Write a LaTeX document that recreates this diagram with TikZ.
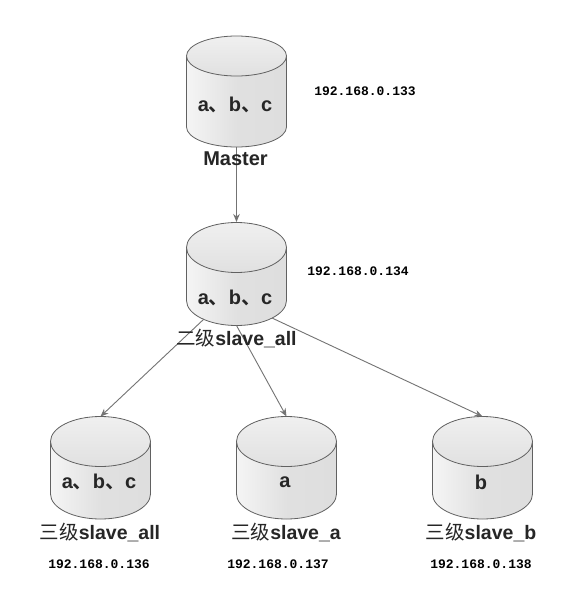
\documentclass[tikz,border=0pt]{standalone}
\usepackage{fontspec}
\setmainfont{Liberation Sans}
\newfontfamily\cjk{Noto Sans CJK SC}[BoldFont={* Bold}]
\newfontfamily\ipfont{Liberation Mono}
\usetikzlibrary{arrows.meta}
\tikzset{
  conn/.style={draw=black!55,line width=0.9pt,-{Stealth[length=8pt,width=6.5pt]}},
  lbl/.style={font=\fontsize{20}{22}\selectfont\bfseries,text=black!85,inner sep=0pt},
  lblb/.style={font=\fontsize{19.5}{22}\selectfont\bfseries,text=black!85,inner sep=0pt},
  ip/.style={font=\fontsize{13}{15}\selectfont\ipfont\bfseries,text=black,inner sep=0pt},
  cylbody/.style={draw=black!62,line width=0.8pt,left color=black!4,right color=black!13,middle color=black!12},
  cyltop/.style={draw=black!62,line width=0.8pt,top color=black!6,bottom color=black!12},
  cylbox/.style={minimum width=100pt,inner sep=0pt}
}
% name, cx, top, ry, bottom
\newcommand{\cyl}[5]{%
  \pgfmathsetmacro{\ct}{#3+#4}%
  \pgfmathsetmacro{\cb}{#5-#4}%
  \pgfmathsetmacro{\cm}{(#3+#5)/2}%
  \path[cylbody] (#2-50,\ct) -- (#2-50,\cb) arc[start angle=180,end angle=360,x radius=50,y radius=-#4] -- (#2+50,\ct) -- cycle;
  \path[cyltop] (#2,\ct) ellipse[x radius=50,y radius=#4];
  \node[cylbox,minimum height=#5pt-#3pt] (#1) at (#2,\cm) {};
  \coordinate (#1top) at (#2,#3);
  \coordinate (#1bot) at (#2,#5);
}
\newcommand{\abc}{a{\cjk 、}b{\cjk 、}c}
\begin{document}
\begin{tikzpicture}[x=1pt,y=-1pt]
\useasboundingbox (0,0) rectangle (570,595);
\fill[white] (0,0) rectangle (570,595);
\coordinate (m2a) at (204,319);
\coordinate (m2c) at (272,318);
\draw[conn] (236.5,147) coordinate (mb) -- (236.5,222) coordinate (st);
\cyl{master}{236.5}{36}{20}{147}
\cyl{second}{236.5}{222.5}{25}{325.5}
\cyl{third}{100.5}{416.5}{25}{519}
\cyl{thirda}{286.5}{416.5}{25}{519}
\cyl{thirdb}{482.5}{416.5}{25}{519}
\draw[conn] (m2a) -- (thirdtop);
\draw[conn] (secondbot) -- (thirdatop);
\draw[conn] (m2c) -- (thirdbtop);
\node[lbl] (t1) at (235,105) {\abc};
\node[lbl] (t2) at (235,298) {\abc};
\node[lbl] (t3) at (99,482) {\abc};
\node[lbl] (t4) at (285,482) {a};
\node[lbl] (t5) at (481,482) {b};
\node[lbl] (l1) at (235.5,158.5) {Master};
\node[lblb] (l2) at (236.5,338) {{\cjk\mdseries 二级}slave\_all};
\node[lblb] (l3) at (100,532) {{\cjk\mdseries 三级}slave\_all};
\node[lblb] (l4) at (286,532) {{\cjk\mdseries 三级}slave\_a};
\node[lblb] (l5) at (481,532) {{\cjk\mdseries 三级}slave\_b};
\node[ip] (i1) at (365,91) {192.168.0.133};
\node[ip] (i2) at (358,271) {192.168.0.134};
\node[ip] (i3) at (99,564) {192.168.0.136};
\node[ip] (i4) at (278,564) {192.168.0.137};
\node[ip] (i5) at (481,564) {192.168.0.138};
\end{tikzpicture}
\end{document}
